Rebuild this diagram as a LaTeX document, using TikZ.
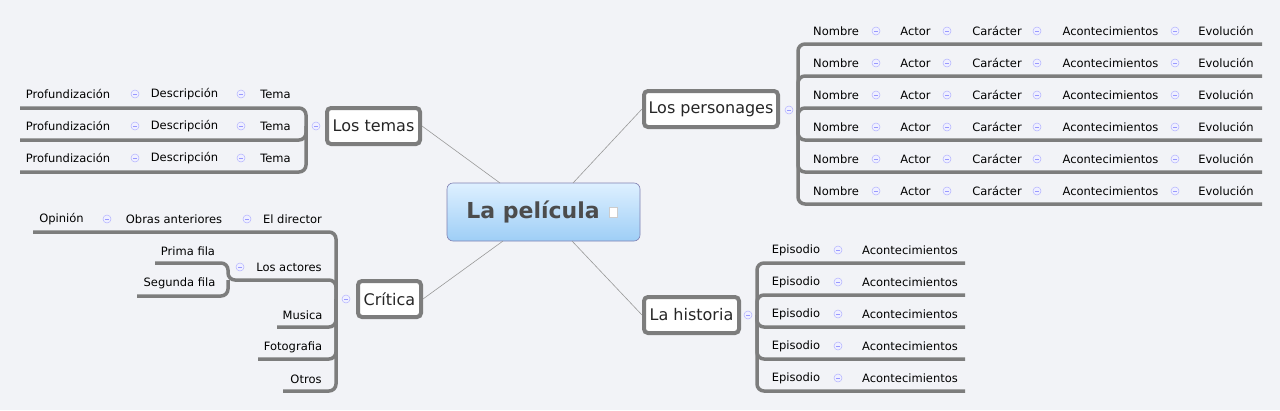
\documentclass[tikz,border=0pt]{standalone}
\usepackage{fontspec}
\setmainfont{DejaVu Sans}
\definecolor{bg}{RGB}{242,243,247}
\definecolor{barc}{RGB}{125,125,125}
\definecolor{gtop}{RGB}{222,240,255}
\definecolor{gbot}{RGB}{158,206,246}
\begin{document}
\begin{tikzpicture}[x=1pt,y=-1pt,
  bar/.style={draw=barc,line width=3.5pt,rounded corners=7pt},
  leaf/.style={font=\fontsize{11.5}{13}\selectfont,text=black,inner sep=0pt},
  topic/.style={draw=barc,line width=4pt,fill=white,rounded corners=4pt,font=\fontsize{16}{19}\selectfont,text=black!85,inner sep=0pt},
  link/.style={draw=gray!80,line width=0.6pt},
  ic/.style={circle,draw=blue!30,fill=blue!6,line width=0.5pt,minimum size=8pt,inner sep=0pt,path picture={\draw[blue!40,line width=0.6pt]([xshift=-2pt]path picture bounding box.center)--([xshift=2pt]path picture bounding box.center);}}]
\fill[bg] (0,0) rectangle (1280,410);
\useasboundingbox (0,0) rectangle (1280,410);
% root
\shade[top color=gtop,bottom color=gbot,rounded corners=6pt] (447,183) rectangle (640,241);
\draw[rounded corners=6pt,draw=blue!25!gray!80,line width=0.6pt] (447,183) rectangle (640,241);
\node[font=\fontsize{22}{26}\selectfont\bfseries,text=black!70,inner sep=0pt] (root) at (533,212) {La película};
\node[draw=gray!40,fill=white,minimum width=8pt,minimum height=10pt,inner sep=0pt] (doc) at (613,212) {};
\coordinate (r1) at (573,183); \coordinate (r2) at (500,183);
\coordinate (r3) at (503,241); \coordinate (r4) at (572,241);
% topics
\node[topic,minimum width=134pt,minimum height=36pt] (pers) at (711,109) {Los personages};
\node[topic,minimum width=93pt,minimum height=36pt] (temas) at (373.5,126) {Los temas};
\node[topic,minimum width=63pt,minimum height=36pt] (crit) at (389.5,299) {Crítica};
\node[topic,minimum width=95pt,minimum height=36pt] (hist) at (691.5,315) {La historia};
\draw[link] (r1) -- (pers.west);
\draw[link] (r2) -- (temas.east);
\draw[link] (r3) -- (crit.east);
\draw[link] (r4) -- (hist.west);
% personages
\node[ic] (ip) at (789,110) {};
\foreach \i in {0,...,5}{
  \pgfmathsetmacro\yy{44+32*\i}
  \draw[bar] (798,110) -- (798,\yy) -- (1262,\yy);
  \node[leaf] at (836,\yy-13) {Nombre};
  \node[ic] at (876,\yy-13) {};
  \node[leaf] at (915.5,\yy-13) {Actor};
  \node[ic] at (947,\yy-13) {};
  \node[leaf] at (997,\yy-13) {Carácter};
  \node[ic] at (1037,\yy-13) {};
  \node[leaf] at (1110.5,\yy-13) {Acontecimientos};
  \node[ic] at (1175,\yy-13) {};
  \node[leaf] at (1226,\yy-13) {Evolución};
}
% historia
\node[ic] (ih) at (748,315) {};
\foreach \i in {0,...,4}{
  \pgfmathsetmacro\yy{263+32*\i}
  \draw[bar] (757,315) -- (757,\yy) -- (965,\yy);
  \node[leaf] at (796,\yy-13) {Episodio};
  \node[ic] at (838,\yy-13) {};
  \node[leaf] at (910,\yy-13) {Acontecimientos};
}
% temas
\node[ic] (it) at (316,126) {};
\foreach \i in {0,...,2}{
  \pgfmathsetmacro\yy{108+32*\i}
  \draw[bar] (306,126) -- (306,\yy) -- (20,\yy);
  \node[leaf] at (68,\yy-14) {Profundización};
  \node[ic] at (135,\yy-14) {};
  \node[leaf] at (184.5,\yy-14) {Descripción};
  \node[ic] at (241,\yy-14) {};
  \node[leaf] at (275.5,\yy-14) {Tema};
}
% critica
\node[ic] (ic1) at (346,299) {};
\draw[bar] (336,299) -- (336,232) -- (33,232);
\draw[bar] (336,299) -- (336,280) -- (250,280);
\draw[bar] (336,299) -- (336,327) -- (277,327);
\draw[bar] (336,299) -- (336,359) -- (258,359);
\draw[bar] (336,299) -- (336,391) -- (283,391);
\node[leaf] at (61.5,219) {Opinión};
\node[ic] at (107,219) {};
\node[leaf] at (174,219) {Obras anteriores};
\node[ic] at (247,219) {};
\node[leaf] at (292.5,219) {El director};
\node[leaf] at (289,267) {Los actores};
\node[ic] at (240,267) {};
\draw[bar] (250,280) -- (228,280) -- (228,263) -- (155,263);
\draw[bar] (228,280) -- (228,296) -- (137,296);
\node[leaf] at (188,251) {Prima fila};
\node[leaf] at (179.5,283) {Segunda fila};
\node[leaf] at (302.5,315) {Musica};
\node[leaf] at (293,347) {Fotografia};
\node[leaf] at (306,379) {Otros};
\end{tikzpicture}
\end{document}
